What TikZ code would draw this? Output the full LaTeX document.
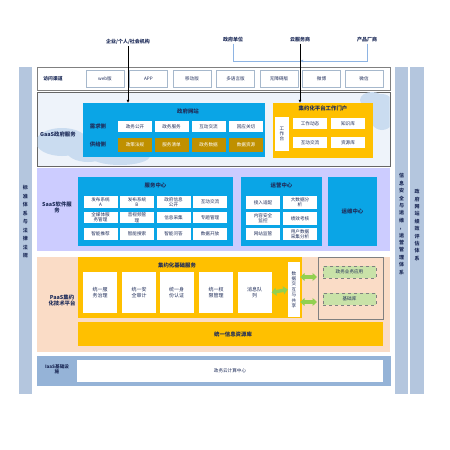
\documentclass[tikz,border=0pt]{standalone}
\usepackage{fontspec}
\setmainfont{Noto Sans CJK SC}
\usepackage{tikz}
\usetikzlibrary{arrows.meta}
\definecolor{navy}{HTML}{1F2D5A}
\definecolor{barblu}{HTML}{B4C6DE}
\definecolor{gaasbg}{HTML}{EEF3FA}
\definecolor{cloudblu}{HTML}{CADCF0}
\definecolor{saasbg}{HTML}{CCCCFF}
\definecolor{paasbg}{HTML}{FADCC6}
\definecolor{iaasbg}{HTML}{95B3D7}
\definecolor{skyblu}{HTML}{0AA5E6}
\definecolor{amber}{HTML}{FFC000}
\definecolor{gold}{HTML}{BF9000}
\definecolor{leaf}{HTML}{92D050}
\definecolor{leafbg}{HTML}{C9E2A8}
\definecolor{boxline}{HTML}{A6B8CC}
\definecolor{linkblu}{HTML}{8EB4E3}

\begin{document}
\begin{tikzpicture}[
  x=1pt, y=-1pt,
  txt/.style={font=\fontsize{4.6}{5.4}\selectfont, text=navy, align=center, inner sep=0pt},
  ttl/.style={font=\fontsize{5.4}{6}\selectfont\bfseries, text=navy, align=center, inner sep=0pt},
  toptxt/.style={font=\fontsize{5}{6}\selectfont\bfseries, text=navy, inner sep=1pt},
  vtxt/.style={font=\fontsize{5}{7.4}\selectfont\bfseries, text=navy, align=center, inner sep=0pt},
  wbox/.style={txt, fill=white, draw=boxline, line width=0.3pt},
  pbox/.style={txt, fill=white, minimum width=34pt},
  gbox/.style={txt, fill=gold, text=white, minimum width=34pt, minimum height=14pt},
  chan/.style={wbox, minimum width=38pt, minimum height=17pt},
  bluebox/.style={fill=skyblu, inner sep=0pt},
  ambox/.style={fill=amber, inner sep=0pt},
  garrow/.style={leaf, line width=3.4pt, {Triangle[width=8pt,length=4.5pt]}-{Triangle[width=8pt,length=4.5pt]}},
  dbox/.style={txt, fill=leafbg, draw=gray, dashed, line width=0.9pt, minimum width=53pt, minimum height=12pt}
]
  % page
  \fill[white] (0,0) rectangle (450,450);

  % users on top
  \node[toptxt] (org) at (128,42) {企业/个人/社会机构};
  \node[toptxt] (gov) at (233,40) {政府单位};
  \node[toptxt] (csp) at (300,40) {云服务商};
  \node[toptxt] (vendor) at (367,40) {产品厂商};

  % side bars
  \fill[barblu] (19,67) rectangle (32,394);
  \node[vtxt, font=\fontsize{5}{8.5}\selectfont\bfseries] (law) at (25.5,222) {标\\准\\体\\系\\与\\法\\律\\法\\规};
  \fill[barblu] (395,67) rectangle (408,394);
  \node[vtxt] (sec) at (401.5,224) {信\\息\\安\\全\\与\\运\\维\\，\\运\\营\\管\\理\\体\\系};
  \fill[barblu] (410,67) rectangle (424,394);
  \node[vtxt] (eval) at (417,225) {政\\府\\网\\站\\绩\\效\\评\\估\\体\\系};

  % access channels
  \draw[gray, fill=white, line width=0.5pt] (37,67) rectangle (390,90);
  \node[ttl, font=\fontsize{4.8}{5.4}\selectfont\bfseries] (chn) at (53,79) {访问渠道};
  \node[chan] (web) at (105,78.5) {web版};
  \node[chan] (app) at (148.5,78.5) {APP};
  \node[chan] (mob) at (192,78.5) {移动版};
  \node[chan] (lang) at (235.5,78.5) {多语言版};
  \node[chan] (acc) at (279,78.5) {无障碍版};
  \node[chan] (wb) at (321.5,78.5) {微博};
  \node[chan] (wx) at (364,78.5) {微信};

  % GaaS layer
  \draw[gray!80!black, fill=gaasbg, line width=1pt] (37,92) rectangle (390,166);
  \begin{scope}
    \clip (37.5,92.5) rectangle (389.5,165.5);
    \fill[cloudblu] (62,142) ellipse (26pt and 14pt);
    \fill[cloudblu] (88,150) ellipse (22pt and 12pt);
    \fill[cloudblu] (120,156) ellipse (30pt and 9pt);
    \fill[cloudblu] (382,112) ellipse (14pt and 18pt);
    \fill[cloudblu] (372,100) ellipse (12pt and 8pt);
  \end{scope}
  \node[ttl] (gaas) at (58,134) {GaaS政府服务};

  \node[bluebox, minimum width=182pt, minimum height=54pt] (site) at (174,130) {};
  \node[ttl] at (188,111) {政府网站};
  \node[ttl] at (98,126) {需求侧};
  \node[ttl] at (98,144) {供给侧};
  \node[pbox, minimum height=11pt] (open) at (135,126.5) {政务公开};
  \node[pbox, minimum height=11pt] (serv) at (171.5,126.5) {政务服务};
  \node[pbox, minimum height=11pt] (talk) at (208.5,126.5) {互动交流};
  \node[pbox, minimum height=11pt] (resp) at (246,126.5) {回应关切};
  \node[gbox] (rule) at (135,145) {政策法规};
  \node[gbox] (list) at (171.5,145) {服务清单};
  \node[gbox] (data) at (208.5,145) {政务数据};
  \node[gbox] (res) at (246,145) {数据资源};

  \node[ambox, minimum width=100pt, minimum height=55pt] (portal) at (323,130.5) {};
  \node[ttl] at (323,108.5) {集约化平台工作门户};
  \node[pbox, minimum width=14pt, minimum height=34pt] (desk) at (282,134) {工\\作\\台};
  \node[pbox, minimum height=11pt] (news) at (310,123.5) {工作动态};
  \node[pbox, minimum height=11pt] (know) at (348,123.5) {知识库};
  \node[pbox, minimum height=11pt] (inter) at (310,142.5) {互动交流};
  \node[pbox, minimum height=11pt] (pool) at (348,142.5) {资源库};

  % SaaS layer
  \fill[saasbg] (37,168) rectangle (390,251);
  \node[ttl] (saas) at (57,207) {SaaS软件服\\务};

  \node[bluebox, minimum width=155pt, minimum height=69pt] (svc) at (155.5,211.5) {};
  \node[ttl] at (155.5,185) {服务中心};
  \foreach \t [count=\i] in {{发布系统\\A},{发布系统\\B},{政府信息\\公开},{互动交流}}
    \node[pbox, minimum height=12pt] (s1\i) at ({64+\i*36.5},202) {\t};
  \foreach \t [count=\i] in {{全媒体服\\务管理},{音视频管\\理},{信息采集},{专题管理}}
    \node[pbox, minimum height=11pt] (s2\i) at ({64+\i*36.5},217.5) {\t};
  \foreach \t [count=\i] in {智能推荐,智能搜索,智能问答,数据开放}
    \node[pbox, minimum height=12pt] (s3\i) at ({64+\i*36.5},234) {\t};

  \node[bluebox, minimum width=81pt, minimum height=69pt] (ops) at (281.5,211.5) {};
  \node[ttl] at (281.5,185) {运营中心};
  \node[pbox, minimum height=13pt] (o11) at (263,202.5) {接入适配};
  \node[pbox, minimum height=13pt] (o12) at (300,202.5) {大数据分\\析};
  \node[pbox, minimum height=13pt] (o21) at (263,218.5) {内容安全\\监控};
  \node[pbox, minimum height=13pt] (o22) at (300,218.5) {绩效考核};
  \node[pbox, minimum height=12pt] (o31) at (263,234) {网站监管};
  \node[pbox, minimum height=12pt] (o32) at (300,234) {用户数据\\采集分析};

  \node[bluebox, minimum width=49pt, minimum height=69pt] (maint) at (352.5,211.5) {};
  \node[ttl] at (352.5,211.5) {运维中心};

  % PaaS layer
  \fill[paasbg] (37,257) rectangle (390,352);
  \node[ttl] (paas) at (62,300) {PaaS集约\\化技术平台};

  \node[ambox, minimum width=224pt, minimum height=61pt] (base) at (190,287.5) {};
  \node[ttl] at (177,265) {集约化基础服务};
  \foreach \t/\cx [count=\i] in {{统一服\\务治理}/100,{统一安\\全审计}/139,{统一身\\份认证}/176.5,{统一权\\限管理}/216,{消息队\\列}/254.5}
    \node[pbox, minimum height=41pt, font=\fontsize{5}{6.4}\selectfont] (p\i) at (\cx,292.5) {\t};
  \node[pbox, minimum width=12pt, minimum height=55pt] (share) at (294,289.5) {数\\据\\交\\互\\与\\共\\享};

  \draw[gray, line width=0.6pt] (318,257) rectangle (383,319);
  \node[dbox] (bizapp) at (349.5,272) {政务业务应用};
  \node[dbox] (basedb) at (349.5,299) {基础库};
  \coordinate (a1) at (317,277);
  \coordinate (a2) at (317,302);
  \draw[garrow] (p5.east) -- (share.west);
  \draw[garrow] (share.east |- a1) -- (a1);
  \draw[garrow] (share.east |- a2) -- (a2);

  \node[ambox, minimum width=305pt, minimum height=24pt] (resdb) at (230.5,334) {};
  \node[ttl] at (233,334) {统一信息资源库};

  % IaaS layer
  \fill[iaasbg] (37,356) rectangle (391,386);
  \node[ttl, font=\fontsize{4.6}{5.4}\selectfont\bfseries] (iaas) at (57,369) {IaaS基础设\\施};
  \node[txt, fill=white, minimum width=306pt, minimum height=22pt] (cloudc) at (230,371) {政务云计算中心};

  % links from users
  \coordinate (junc) at (300,61);
  \draw[linkblu, line width=0.7pt] (gov.south) |- (junc);
  \draw[linkblu, line width=0.7pt, -{Latex[length=3pt,width=3pt]}] (vendor.south) |- (junc);
  \draw[black, line width=0.6pt, -{Latex[length=3pt,width=3pt]}] (org.south) -- (org.south |- site.north);
  \draw[black, line width=0.6pt, -{Latex[length=3pt,width=3pt]}] (csp.south) -- (csp.south |- portal.north);
\end{tikzpicture}
\end{document}
